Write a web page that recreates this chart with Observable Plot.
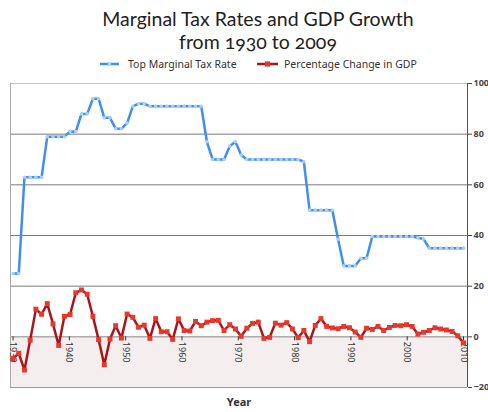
<!DOCTYPE html>
<html><head><meta charset="utf-8">
<script src="https://cdn.jsdelivr.net/npm/d3@7"></script>
<script src="https://cdn.jsdelivr.net/npm/@observablehq/plot@0.6"></script>
<style>
html,body{margin:0;padding:0;background:#fff;}
#wrap{position:relative;width:488px;height:412px;overflow:hidden;font-family:"Noto Sans",sans-serif;}
#head{position:relative;height:74px;}
.tl{position:absolute;left:28px;width:460px;text-align:center;font-family:Lato,sans-serif;font-size:19.5px;line-height:23px;color:#222;font-feature-settings:"onum";white-space:nowrap;}
.leg{position:absolute;top:57px;font-size:10.5px;color:#333;line-height:14px;white-space:nowrap;}
.leg svg{position:absolute;top:1px;}
#chart svg{display:block;}
</style></head><body>
<div id="wrap"><div id="head"><div class="tl" style="top:7px">Marginal Tax Rates and GDP Growth</div><div class="tl" style="top:30px">from 1930 to 2009</div>
<div id="legend"></div></div><div id="chart"></div></div>
<script>
const years = [1930,1931,1932,1933,1934,1935,1936,1937,1938,1939,
1940,1941,1942,1943,1944,1945,1946,1947,1948,1949,
1950,1951,1952,1953,1954,1955,1956,1957,1958,1959,
1960,1961,1962,1963,1964,1965,1966,1967,1968,1969,
1970,1971,1972,1973,1974,1975,1976,1977,1978,1979,
1980,1981,1982,1983,1984,1985,1986,1987,1988,1989,
1990,1991,1992,1993,1994,1995,1996,1997,1998,1999,
2000,2001,2002,2003,2004,2005,2006,2007,2008,2009];
const taxRate = [25,25,63,63,63,63,79,79,79,79,
81.1,81,88,88,94,94,86.45,86.45,82.13,82.13,
84.36,91,92,92,91,91,91,91,91,91,
91,91,91,91,77,70,70,70,75.25,77,
71.75,70,70,70,70,70,70,70,70,70,
70,69.13,50,50,50,50,50,38.5,28,28,
28,31,31,39.6,39.6,39.6,39.6,39.6,39.6,39.6,
39.6,39.1,38.6,35,35,35,35,35,35,35];
const gdpChange = [-8.6,-6.5,-13.1,-1.3,10.9,8.9,13.1,5.1,-3.4,8.1,
8.8,17.4,18.5,16.8,8.1,-1.1,-11.0,-0.9,4.4,-0.5,
9.0,7.7,3.8,4.6,-0.6,7.2,2.0,2.0,-1.0,7.1,
2.5,2.3,6.1,4.4,5.8,6.4,6.5,2.5,4.8,3.1,
0.2,3.4,5.3,5.8,-0.6,-0.2,5.4,4.6,5.6,3.1,
-0.3,2.5,-1.9,4.5,7.2,4.1,3.5,3.2,4.1,3.6,
1.9,-0.2,3.4,2.9,4.1,2.5,3.7,4.5,4.4,4.8,
4.1,1.1,1.8,2.5,3.6,3.1,2.7,2.1,0.4,-2.4];
const xTickLabels = ["1930","1940","1950","1960","1970","1980","1990","2000","2010"];
const yTicks = [-20,0,20,40,60,80,100];
const seriesNames = ["Top Marginal Tax Rate","Percentage Change in GDP"];
const lineColors = ["#3f8ef0","#a8151a"];
const markColors = ["#a9cff6","#e8382e"];

// legend
const legend = document.getElementById("legend");
const legPos = [{sw:100, tx:128, w:19},{sw:257, tx:284, w:21}];
seriesNames.forEach((name,i)=>{
  const p = legPos[i];
  const d = document.createElement("div");
  d.className = "leg"; d.style.left = p.sw + "px";
  const mark = i===0
    ? `<circle cx="${p.w/2}" cy="6" r="1.8" fill="${markColors[0]}"/>`
    : `<rect x="${p.w/2-2.6}" y="3.4" width="5.2" height="5.2" fill="${markColors[1]}"/>`;
  d.innerHTML = `<svg width="${p.w}" height="12"><line x1="0" x2="${p.w}" y1="6" y2="6" stroke="${lineColors[i]}" stroke-width="2.5"/>${mark}</svg><span style="position:absolute;left:${p.tx-p.sw}px;top:0">${name}</span>`;
  legend.appendChild(d);
});

const taxData = years.map((y,i)=>({year:y, value:taxRate[i]}));
const gdpData = years.map((y,i)=>({year:y, value:gdpChange[i]}));
const xDomain = [1929.55, 2009.7];
const yDomain = [yTicks[0], yTicks[yTicks.length-1]];
const first = years[0], last = years[years.length-1];
const xTickPos = xTickLabels.map((_,k)=> first + k*(last-first)/(xTickLabels.length-1));

const chart = Plot.plot({
  width: 488, height: 338,
  marginLeft: 10, marginRight: 21, marginTop: 9, marginBottom: 25,
  x: {domain: xDomain, axis: null},
  y: {domain: yDomain},
  style: {fontFamily: "'Noto Sans', sans-serif", background: "transparent", overflow: "visible"},
  marks: [
    Plot.rect([{x1:xDomain[0], x2:xDomain[1], y1:yDomain[0], y2:0}], {x1:"x1", x2:"x2", y1:"y1", y2:"y2", fill:"#f4eeee"}),
    Plot.ruleY([100], {stroke:"#c4c4c4"}),
    Plot.ruleY([80,60,40,20], {stroke:"#7a7a7a"}),
    Plot.ruleY([0], {stroke:"#8a8a8a"}),
    Plot.ruleY([-20], {stroke:"#9a9a9a"}),
    Plot.ruleX([xDomain[0]], {stroke:"#aaa"}),
    Plot.ruleX([xDomain[1]], {stroke:"#555"}),
    Plot.axisY({anchor:"right", ticks: yTicks, tickSize: 4, tickPadding: 2, fontSize: 9, fontWeight: "bold", color: "#444", label: null}),
    Plot.ruleX(xTickPos, {y1: 0, y2: -1.6, stroke: "#333"}),
    Plot.text(xTickLabels, {x: (d,i)=>xTickPos[i], y: 0, text: d=>d, rotate: 90, textAnchor: "start", lineAnchor: "middle", dy: 5, fontSize: 9, fill: "#333"}),
    Plot.text(["Year"], {frameAnchor: "bottom", dy: 18, text: d=>d, fontWeight: "bold", fontSize: 11, fill: "#333"}),
    Plot.line(taxData, {x:"year", y:"value", stroke: lineColors[0], strokeWidth: 2.5}),
    Plot.dot(taxData, {x:"year", y:"value", r: 1.8, fill: markColors[0]}),
    Plot.line(gdpData, {x:"year", y:"value", stroke: lineColors[1], strokeWidth: 2.5}),
    Plot.dot(gdpData, {x:"year", y:"value", symbol: "square", r: 2.8, fill: markColors[1]})
  ]
});
document.getElementById("chart").appendChild(chart);
</script>
</body></html>
